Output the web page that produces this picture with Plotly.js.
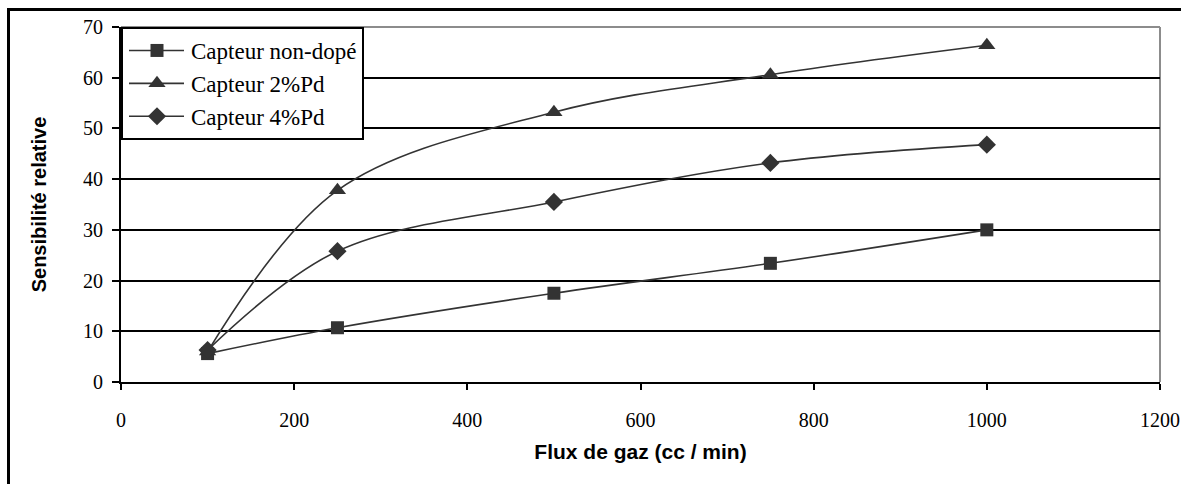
<!DOCTYPE html>
<html>
<head>
<meta charset="utf-8">
<script src="https://cdn.plot.ly/plotly-3.0.1.min.js"></script>
<style>
  html, body { margin: 0; padding: 0; background: #fff; overflow: hidden; }
  #frame { position: absolute; left: 7px; top: 8px; width: 1300px; height: 600px;
           border-left: 3px solid #000; border-top: 3px solid #000; pointer-events: none; z-index: 5; }
  #chart { position: absolute; left: 0; top: 0; width: 1181px; height: 484px; }
</style>
</head>
<body>
<div id="chart"></div>
<div id="frame"></div>
<script>
const flux = [100, 250, 500, 750, 1000];
const nonDope = [5.6, 10.7, 17.5, 23.4, 30.0];
const pd2 = [6.0, 37.8, 53.2, 60.6, 66.4];
const pd4 = [6.3, 25.8, 35.5, 43.2, 46.8];
const seriesNames = ["Capteur non-dopé", "Capteur 2%Pd", "Capteur 4%Pd"];
const xTicks = [0, 200, 400, 600, 800, 1000, 1200];
const yTicks = [0, 10, 20, 30, 40, 50, 60, 70];

const dark = "#333333";
function tr(y, name, sym, size) {
  return {
    x: flux, y: y, name: name, type: "scatter", mode: "lines+markers",
    line: { color: dark, width: 1.6, shape: "spline", smoothing: 1 },
    marker: { symbol: sym, size: size, color: dark, line: { width: 0 } }
  };
}
const data = [
  tr(nonDope, seriesNames[0], "square", 13),
  tr(pd2, seriesNames[1], "triangle-up", 15),
  tr(pd4, seriesNames[2], "diamond", 14)
];
const serif = "Liberation Serif, Times New Roman, serif";
const sans = "Liberation Sans, Arial, sans-serif";
const layout = {
  width: 1181, height: 484,
  margin: { l: 121, r: 21, t: 27, b: 102 },
  paper_bgcolor: "#fff", plot_bgcolor: "#fff",
  showlegend: true,
  legend: {
    x: 0, y: 1, xanchor: "left", yanchor: "top",
    bgcolor: "#fff", bordercolor: "#000", borderwidth: 2,
    font: { family: serif, size: 23, color: "#000" },
    tracegroupgap: 0, itemwidth: 58
  },
  xaxis: {
    range: [0, 1200], tickvals: xTicks, ticktext: xTicks.map(String),
    showgrid: false, zeroline: false,
    showline: true, linecolor: "#000", linewidth: 2,
    ticks: "outside", ticklen: 6, tickwidth: 2, tickcolor: "#000",
    ticklabelstandoff: 13,
    tickfont: { family: serif, size: 20, color: "#000" },
    title: { text: "Flux de gaz (cc / min)", font: { family: sans, size: 21, color: "#000", weight: "bold" }, standoff: 14 }
  },
  yaxis: {
    range: [0, 70], tickvals: yTicks, ticktext: yTicks.map(String),
    showgrid: true, gridcolor: "#000", gridwidth: 2,
    zeroline: false,
    showline: true, linecolor: "#000", linewidth: 2,
    ticks: "outside", ticklen: 7, tickwidth: 2, tickcolor: "#000",
    ticklabelstandoff: 5,
    tickfont: { family: serif, size: 20, color: "#000" },
    title: { text: "Sensibilité relative", font: { family: sans, size: 20, color: "#000", weight: "bold" }, standoff: 31 }
  },
  shapes: [
    { type: "line", xref: "paper", yref: "paper", x0: 0, x1: 1, y0: 1, y1: 1, line: { color: "#8c8c8c", width: 2 }, layer: "below" },
    { type: "line", xref: "paper", yref: "paper", x0: 1, x1: 1, y0: 0, y1: 1, line: { color: "#8c8c8c", width: 2 }, layer: "below" }
  ]
};
Plotly.newPlot("chart", data, layout, { staticPlot: true, displayModeBar: false }).then(function (gd) {
  // lengthen the legend line samples (Excel-style) and centre the symbol on them
  gd.querySelectorAll(".legend .legendlines path").forEach(function (p) {
    p.setAttribute("d", "M6,0h55");
  });
  gd.querySelectorAll(".legend .legendpoints path").forEach(function (p) {
    p.setAttribute("transform", "translate(34,0)");
  });
});
</script>
</body>
</html>
